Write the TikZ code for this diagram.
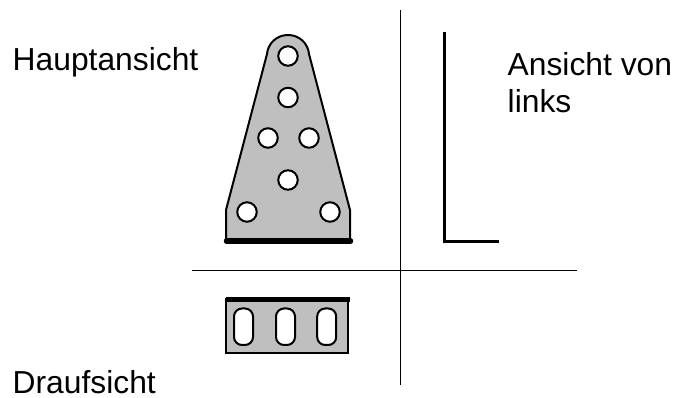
\documentclass[tikz,border=0pt]{standalone}
\usepackage{fontspec}
\setmainfont{Liberation Sans}
\tikzset{
  px/.style={x=1pt,y=-1pt},
  plate/.style={draw=black,fill=black!25,line width=2pt,line join=round},
  hole/.style={draw=black,fill=white,line width=2pt},
  axis/.style={draw=black,line width=0.8pt},
  heavy/.style={draw=black,line width=5.5pt,line cap=round},
  lbl/.style={anchor=base west,inner sep=0pt,font=\fontsize{31.8}{38}\selectfont,align=left}
}
\begin{document}
\begin{tikzpicture}[px]
\useasboundingbox (0,0) rectangle (689,398);
% axes
\coordinate (vt) at (400,10); \coordinate (vb) at (400,385);
\coordinate (hl) at (192,270); \coordinate (hr) at (577,270);
\draw[axis] (vt) -- (vb);
\draw[axis] (hl) -- (hr);
% main view
\draw[plate] (226,240) -- (226,210) -- (267,54)
  .. controls (268,43) and (277,35) .. (288,35)
  .. controls (299,35) and (308,43) .. (309,54)
  -- (350,210) -- (350,240) -- cycle;
\foreach \n/\cx/\cy in {a/288/56,b/288/97.5,c/268/138,d/309/138,e/288/180,f/247/212,g/330/212}
  \node[hole,circle,minimum size=19.5pt,inner sep=0pt] (\n) at (\cx,\cy) {};
\coordinate (bl) at (226.5,241); \coordinate (br) at (350.5,241);
\draw[heavy] (bl) -- (br);
% side view
\coordinate (la) at (444.3,32); \coordinate (lb) at (444.3,241.5); \coordinate (lc) at (499,241.5);
\draw[draw=black,line width=3.2pt,line join=miter] (la) -- (lb) -- (lc);
% top view
\draw[draw=black,fill=black!25,line width=1.5pt] (226,299) rectangle (348,353);
\coordinate (tl) at (226,300); \coordinate (tr) at (350,300);
\draw[draw=black,line width=5pt] (tl) -- (tr);
\foreach \sx in {243.5,285.5,326.7}
  \draw[hole,rounded corners=8pt] (\sx-9.5,308.5) rectangle (\sx+9.5,345);
% labels
\node[lbl] (t1) at (12.5,70.5) {Hauptansicht};
\node[lbl] (t2) at (507.5,76) {Ansicht von};
\node[lbl] (t3) at (507.5,113) {links};
\node[lbl] (t4) at (12.5,394) {Draufsicht};
\end{tikzpicture}
\end{document}
